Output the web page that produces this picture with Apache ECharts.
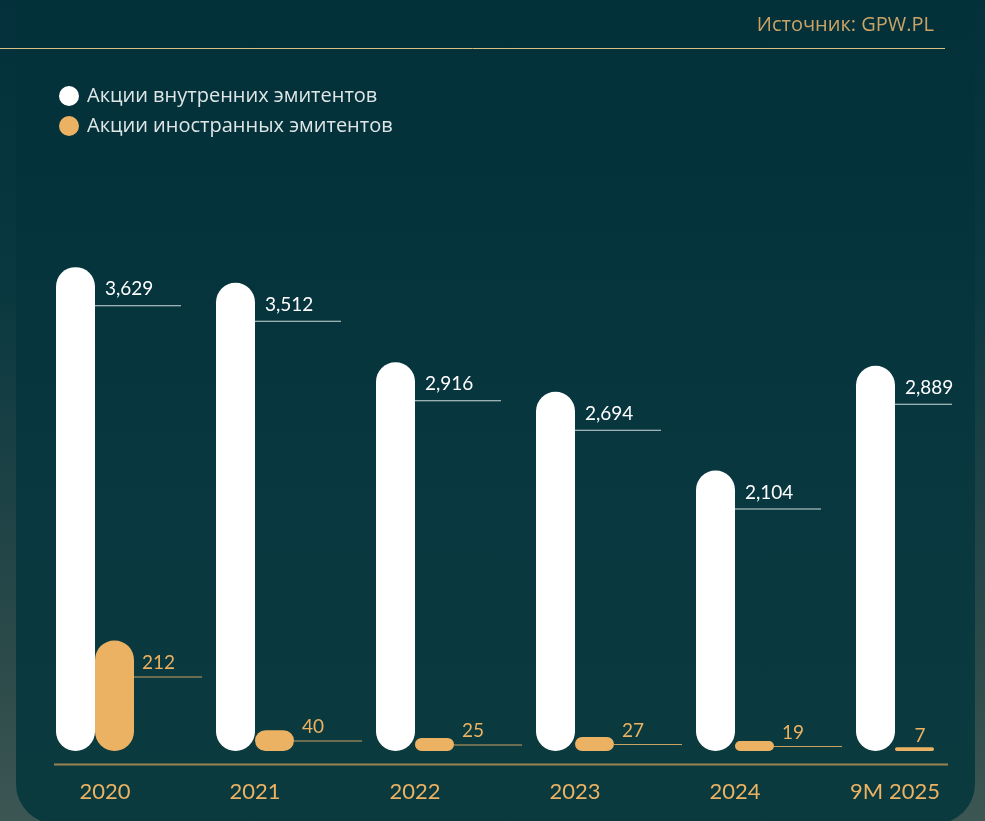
<!DOCTYPE html>
<html>
<head>
<meta charset="utf-8">
<script src="https://cdn.jsdelivr.net/npm/echarts@6/dist/echarts.min.js"></script>
<style>
html,body{margin:0;padding:0;width:985px;height:821px;overflow:hidden;}
#bg{position:absolute;left:0;top:0;width:985px;height:821px;
 background:linear-gradient(to bottom,#03303a 0%,#0a3840 35%,#2c4a4a 80%,#3c5653 100%);}
#card{position:absolute;left:16px;top:-60px;width:959px;height:884px;border-radius:40px;
 background:linear-gradient(to bottom,#022f38 0%,#083740 60%,#0b3a3e 100%);}
#chart{position:absolute;left:0;top:0;width:985px;height:821px;}
</style>
</head>
<body>
<div id="bg"></div>
<div id="card"></div>
<div id="chart"></div>
<script>
const categories = ['2020', '2021', '2022', '2023', '2024', '9M 2025'];
const domestic = [3629, 3512, 2916, 2694, 2104, 2889];
const foreign = [212, 40, 25, 27, 19, 7];
const seriesNames = ['Акции внутренних эмитентов', 'Акции иностранных эмитентов'];
const sourceText = 'Источник: GPW.PL';

const W = 985, H = 821;
const gridLeft = 15, gridRight = 10, gridTop = 151, gridBottom = 70;
const plotH = H - gridTop - gridBottom;
const bandW = (W - gridLeft - gridRight) / categories.length;
const barW = 39;
const maxDom = 4500, maxFor = 1150;
const WHITE = '#ffffff', ORANGE = '#EBB263';
const FONT = 'Lato, "Noto Sans", sans-serif';

function fmt(v) { return v.toLocaleString('en-US'); }

function makeItems(values, max, sIdx, cfg) {
  return values.map((v, i) => {
    const h = v / max * plotH;
    const lineOff = Math.min(cfg.off, h / 2);
    const barLeft = gridLeft + bandW * i + bandW / 2 - barW + sIdx * barW;
    const barRight = barLeft + barW;
    const len = Math.min(cfg.len, cfg.limit - barRight);
    const vStyle = { color: cfg.textColor, fontSize: cfg.fontSize, fontFamily: FONT, lineHeight: cfg.lh, padding: [0, 0, 0, cfg.pad] };
    let label;
    if (len < 30) {
      label = {
        show: true, position: [barW / 2, lineOff - cfg.lh], align: 'left', verticalAlign: 'top',
        formatter: '{v|' + fmt(v) + '}',
        rich: { v: Object.assign({}, vStyle, { padding: 0 }) }
      };
    } else {
      label = {
        show: true, position: [barW, lineOff - cfg.lh], align: 'left', verticalAlign: 'top',
        formatter: '{v|' + fmt(v) + '}\n{l|}',
        rich: { v: vStyle, l: { width: len, height: 1, lineHeight: 1, backgroundColor: cfg.lineColor } }
      };
    }
    return { value: v, label: label };
  });
}

const chart = echarts.init(document.getElementById('chart'), null, { renderer: 'canvas' });
chart.setOption({
  backgroundColor: 'transparent',
  animation: false,
  title: {
    text: sourceText, right: 46, top: 10,
    textStyle: { color: '#c9a466', fontSize: 20, fontWeight: 'normal', fontFamily: '"Open Sans", sans-serif' }
  },
  legend: {
    orient: 'vertical', left: 54, top: 81, itemWidth: 20, itemHeight: 20, itemGap: 10,
    icon: 'circle', selectedMode: false,
    textStyle: { color: '#dfe6e6', fontSize: 20, lineHeight: 20, fontFamily: '"Open Sans", sans-serif', padding: [0, 0, 0, 3] },
    data: seriesNames
  },
  graphic: [
    { type: 'line', shape: { x1: 0, y1: 48.5, x2: 945, y2: 48.5 }, style: { stroke: '#d8bf85', lineWidth: 1 }, silent: true },
    { type: 'line', shape: { x1: 54, y1: 764.5, x2: 948, y2: 764.5 }, style: { stroke: '#9a8452', lineWidth: 2 }, silent: true }
  ],
  grid: { left: gridLeft, right: gridRight, top: gridTop, bottom: gridBottom },
  xAxis: {
    type: 'category', data: categories,
    axisLine: { show: false }, axisTick: { show: false }, splitLine: { show: false },
    axisLabel: {
      color: ORANGE, fontSize: 22, fontFamily: FONT, margin: 30,
      formatter: (val, idx) => idx === 0 ? '{first|' + val + '}' : val,
      rich: { first: { color: ORANGE, fontSize: 22, fontFamily: FONT, padding: [0, 0, 0, 20] } }
    }
  },
  yAxis: [
    { type: 'value', min: 0, max: maxDom, show: false, splitLine: { show: false } },
    { type: 'value', min: 0, max: maxFor, show: false, splitLine: { show: false } }
  ],
  series: [
    {
      name: seriesNames[0], type: 'bar', yAxisIndex: 0, barWidth: barW, barGap: '0%',
      itemStyle: { color: WHITE, borderRadius: 20 },
      data: makeItems(domestic, maxDom, 0, { off: 38, lh: 32, len: 86, limit: 952, pad: 10, fontSize: 19, textColor: '#ffffff', lineColor: 'rgba(230,236,236,0.9)' })
    },
    {
      name: seriesNames[1], type: 'bar', yAxisIndex: 1, barWidth: barW, barGap: '0%',
      itemStyle: { color: ORANGE, borderRadius: 20 },
      data: makeItems(foreign, maxFor, 1, { off: 36, lh: 27, len: 68, limit: 952, pad: 8, fontSize: 19, textColor: ORANGE, lineColor: '#c9a262' })
    }
  ]
});
</script>
</body>
</html>
